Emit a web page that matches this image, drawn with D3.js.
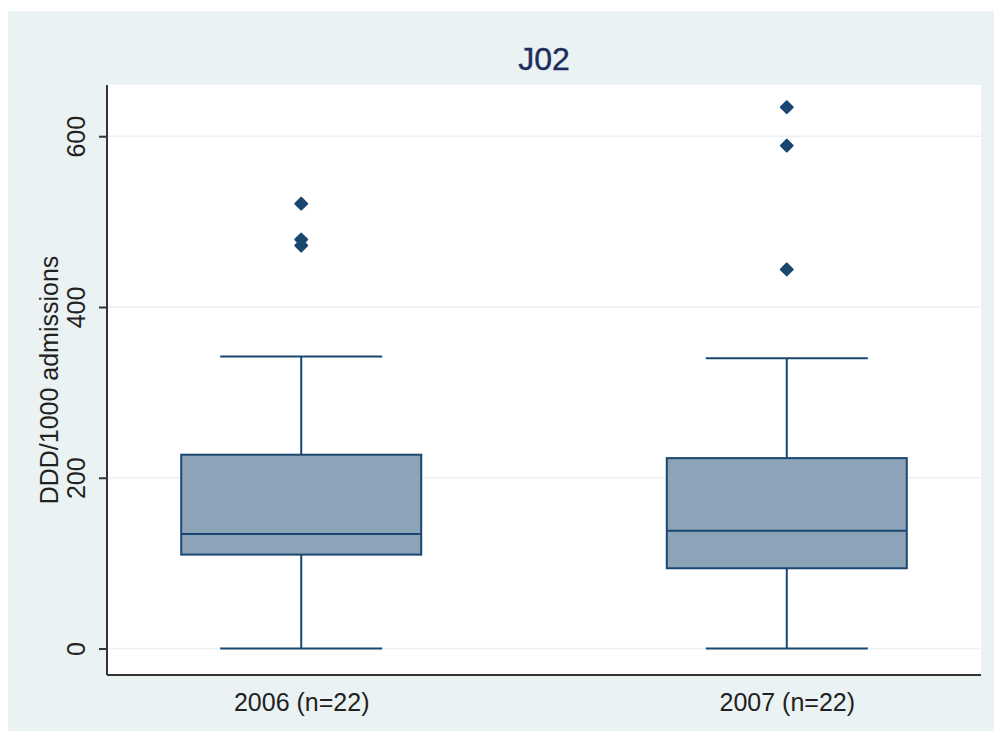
<!DOCTYPE html>
<html lang="en">
<head>
<meta charset="UTF-8">
<title>J02</title>
<style>
  body { margin: 0; background: #fff; }
  text { font-family: "Liberation Sans", Arial, sans-serif; }
</style>
</head>
<body>
<script src="https://cdn.jsdelivr.net/npm/d3@7"></script>
<script>
// data
var categories = ["2006 (n=22)", "2007 (n=22)"];
var whiskerLow  = [0, 0];
var q1          = [110, 94];
var median      = [134, 138];
var q3          = [227, 223];
var whiskerHigh = [342, 340];
var outliers    = [[521, 479, 472], [634, 589, 444]];
var yTicks      = [0, 200, 400, 600];

(function() {
  var width = 994, height = 731;
  var left = 107, right = 981, top = 85, bottom = 675;
  var navy = "#1a476f";

  var svg = d3.select("body").append("svg")
    .attr("width", width)
    .attr("height", height);

  svg.append("rect")
    .attr("x", 8).attr("y", 11)
    .attr("width", width - 8).attr("height", height - 11)
    .attr("fill", "#eaf2f3");

  svg.append("rect")
    .attr("x", left).attr("y", top)
    .attr("width", right - left).attr("height", bottom - top)
    .attr("fill", "#fff");

  var y = d3.scaleLinear().domain([-31, 660]).range([bottom, top]);
  var x = d3.scalePoint().domain(categories).range([left, right]).padding(0.4);
  var boxW = 240;

  // grid
  svg.append("g").selectAll("line")
    .data(yTicks)
    .enter().append("line")
    .attr("x1", left).attr("x2", right)
    .attr("y1", function(d) { return y(d); })
    .attr("y2", function(d) { return y(d); })
    .attr("stroke", "#eaf2f3")
    .attr("stroke-width", 1.5);

  var rows = categories.map(function(c, i) {
    return { cat: c, lo: whiskerLow[i], q1: q1[i], med: median[i], q3: q3[i], hi: whiskerHigh[i], out: outliers[i] };
  });

  var g = svg.append("g").selectAll("g")
    .data(rows)
    .enter().append("g")
    .attr("transform", function(d) { return "translate(" + x(d.cat) + ",0)"; });

  // whiskers
  g.append("line")
    .attr("x1", 0).attr("x2", 0)
    .attr("y1", function(d) { return y(d.hi); })
    .attr("y2", function(d) { return y(d.q3); })
    .attr("stroke", navy).attr("stroke-width", 2);
  g.append("line")
    .attr("x1", 0).attr("x2", 0)
    .attr("y1", function(d) { return y(d.q1); })
    .attr("y2", function(d) { return y(d.lo); })
    .attr("stroke", navy).attr("stroke-width", 2);
  g.selectAll(".cap")
    .data(function(d) { return [d.lo, d.hi]; })
    .enter().append("line")
    .attr("class", "cap")
    .attr("x1", -81).attr("x2", 81)
    .attr("y1", function(v) { return y(v); })
    .attr("y2", function(v) { return y(v); })
    .attr("stroke", navy).attr("stroke-width", 2);

  // box
  g.append("rect")
    .attr("x", -boxW / 2).attr("width", boxW)
    .attr("y", function(d) { return y(d.q3); })
    .attr("height", function(d) { return y(d.q1) - y(d.q3); })
    .attr("fill", "#8da3b7")
    .attr("stroke", navy).attr("stroke-width", 2);
  g.append("line")
    .attr("x1", -boxW / 2).attr("x2", boxW / 2)
    .attr("y1", function(d) { return y(d.med); })
    .attr("y2", function(d) { return y(d.med); })
    .attr("stroke", navy).attr("stroke-width", 2);

  // outside values
  g.selectAll("path.out")
    .data(function(d) { return d.out; })
    .enter().append("path")
    .attr("class", "out")
    .attr("transform", function(v) { return "translate(0," + y(v) + ")"; })
    .attr("d", d3.symbol().type(d3.symbolDiamond2).size(90))
    .attr("fill", navy)
    .attr("stroke", navy)
    .attr("stroke-width", 2)
    .attr("stroke-linejoin", "round");

  // y axis
  var yAxis = svg.append("g")
    .attr("transform", "translate(" + left + ",0)")
    .call(d3.axisLeft(y).tickValues(yTicks).tickSize(8).tickPadding(14).tickFormat(d3.format("d")));
  yAxis.select(".domain").attr("d", "M0," + top + "V" + bottom).attr("stroke", "#333").attr("stroke-width", 2);
  yAxis.selectAll(".tick line").attr("stroke", "#333").attr("stroke-width", 2);
  yAxis.selectAll(".tick text")
    .attr("transform", "rotate(-90)")
    .attr("x", 0).attr("y", -22)
    .attr("dy", 0)
    .attr("text-anchor", "middle")
    .attr("font-size", 25)
    .attr("fill", "#222");

  // x axis
  var xAxis = svg.append("g")
    .attr("transform", "translate(0," + bottom + ")")
    .call(d3.axisBottom(x).tickSize(0).tickPadding(14));
  xAxis.select(".domain").attr("d", "M" + left + ",0H" + right).attr("stroke", "#333").attr("stroke-width", 2);
  xAxis.selectAll(".tick text")
    .attr("y", 36).attr("dy", 0)
    .attr("font-size", 25)
    .attr("fill", "#222");

  svg.append("text")
    .attr("transform", "translate(58," + ((top + bottom) / 2) + ") rotate(-90)")
    .attr("text-anchor", "middle")
    .attr("font-size", 25)
    .attr("fill", "#222")
    .text("DDD/1000 admissions");

  svg.append("text")
    .attr("x", (left + right) / 2)
    .attr("y", 70)
    .attr("text-anchor", "middle")
    .attr("font-size", 32)
    .attr("fill", "#1e2d5c")
    .attr("stroke", "#1e2d5c")
    .attr("stroke-width", 0.4)
    .text("J02");
})();
</script>
</body>
</html>
